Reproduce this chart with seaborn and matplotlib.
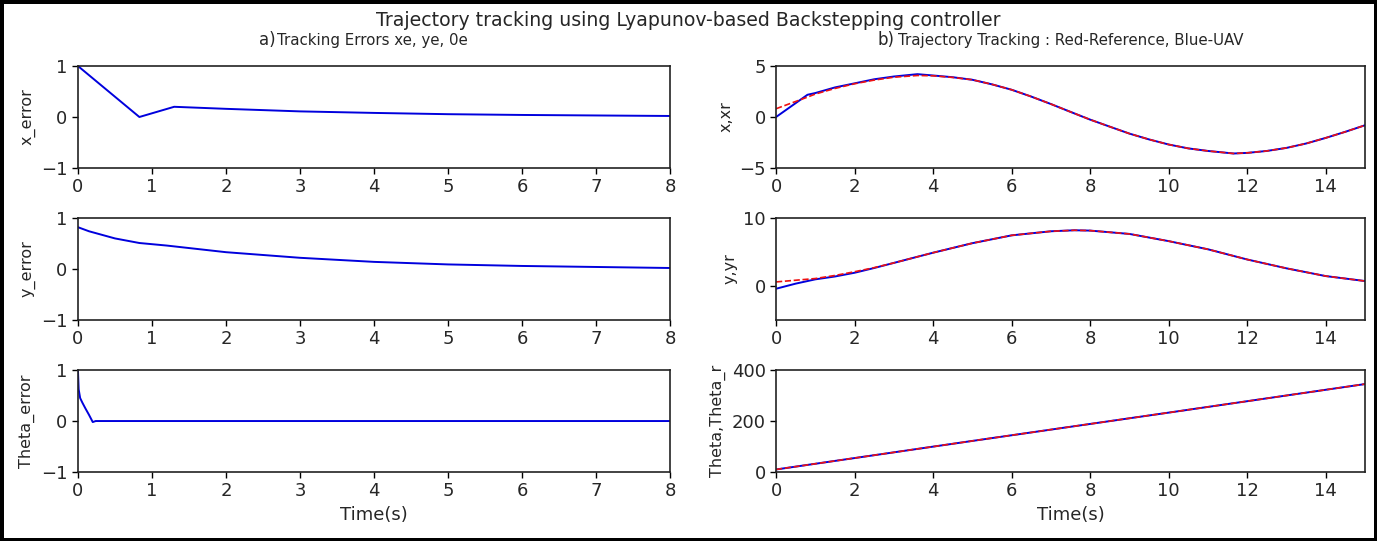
import pandas as pd
import matplotlib.pyplot as plt
import seaborn as sns

sns.set_style("ticks")
plt.rcParams["font.family"] = ["DejaVu Sans"]

# errors (left column)
t_xe = [0, 0.83, 1.3, 2, 3, 4, 5, 6, 7, 8]
x_err = [1.0, 0.0, 0.2, 0.16, 0.11, 0.08, 0.055, 0.04, 0.03, 0.02]

t_ye = [0, 0.15, 0.3, 0.5, 0.83, 1.2, 2, 3, 4, 5, 6, 7, 8]
y_err = [0.82, 0.74, 0.68, 0.6, 0.51, 0.46, 0.33, 0.22, 0.14, 0.09, 0.06, 0.04, 0.02]

t_the = [0, 0.01, 0.03, 0.06, 0.1, 0.15, 0.2, 0.24, 8]
th_err = [1.0, 0.62, 0.45, 0.36, 0.25, 0.12, -0.02, 0.0, 0.0]

# trajectories (right column)
t_x = [0, 0.8, 1, 1.5, 2, 2.5, 3, 3.6, 4, 4.5, 5, 5.5, 6, 6.5, 7, 7.5, 8,
       8.5, 9, 9.5, 10, 10.5, 11, 11.65, 12, 12.5, 13, 13.5, 14, 14.5, 15]
x_uav = [0.0, 2.18, 2.35, 2.9, 3.3, 3.7, 3.97, 4.2, 4.07, 3.9, 3.65, 3.2, 2.67, 2.0, 1.27, 0.5, -0.26,
         -0.95, -1.63, -2.2, -2.7, -3.08, -3.33, -3.58, -3.52, -3.33, -3.03, -2.6, -2.05, -1.45, -0.81]
x_ref = [0.81, 1.95, 2.25, 2.8, 3.26, 3.62, 3.9, 4.07, 4.04, 3.88, 3.65, 3.2, 2.67, 2.0, 1.27, 0.5, -0.26,
         -0.95, -1.63, -2.2, -2.7, -3.08, -3.33, -3.58, -3.52, -3.33, -3.03, -2.6, -2.05, -1.45, -0.81]

t_y = [0, 0.5, 1, 1.5, 2, 2.5, 3, 4, 5, 6, 7, 7.6, 8, 9, 10, 11, 12, 13, 14, 15]
y_uav = [-0.4, 0.35, 0.98, 1.4, 1.95, 2.65, 3.4, 4.9, 6.3, 7.45, 8.05, 8.2, 8.15, 7.66, 6.6, 5.4, 3.9, 2.6, 1.46, 0.73]
y_ref = [0.6, 0.85, 1.1, 1.55, 2.1, 2.7, 3.4, 4.9, 6.3, 7.45, 8.05, 8.2, 8.15, 7.66, 6.6, 5.4, 3.9, 2.6, 1.46, 0.73]

t_th = [0, 5, 10, 15]
th_uav = [10, 122, 233, 345]
th_ref = [10, 122, 233, 345]

fig = plt.figure(figsize=(13.77, 5.41), dpi=100, edgecolor="black", linewidth=5)

lefts = [0.0566, 0.5636]
widths = [0.43, 0.4277]
bottoms = [0.6895, 0.4085, 0.1275]
h = 0.1885


def style_ax(ax, xlim, ylim, yticks, xticks, ylabel):
    ax.set_xlim(*xlim)
    ax.set_ylim(*ylim)
    ax.set_yticks(yticks)
    ax.set_xticks(xticks)
    ax.set_ylabel(ylabel, fontsize=11.5)
    ax.set_xlabel("")
    ax.tick_params(labelsize=13, length=4, width=1, color="black")
    for s in ax.spines.values():
        s.set_color("#222222")
        s.set_linewidth(1.2)


left_data = [(t_xe, x_err, "x_error"), (t_ye, y_err, "y_error"), (t_the, th_err, "Theta_error")]
for i, (t, v, lab) in enumerate(left_data):
    ax = fig.add_axes([lefts[0], bottoms[i], widths[0], h])
    sns.lineplot(x=t, y=v, color="#0000dd", linewidth=1.4, ax=ax)
    style_ax(ax, (0, 8), (-1, 1), [-1, 0, 1], range(0, 9), lab)
    if i == 2:
        ax.set_xlabel("Time(s)", fontsize=13)

right_data = [
    (t_x, x_uav, x_ref, "x,xr", (-5, 5), [-5, 0, 5]),
    (t_y, y_uav, y_ref, "y,yr", (-5, 10), [0, 10]),
    (t_th, th_uav, th_ref, "Theta,Theta_r", (0, 400), [0, 200, 400]),
]
for i, (t, u, r, lab, yl, yt) in enumerate(right_data):
    ax = fig.add_axes([lefts[1], bottoms[i], widths[1], h])
    sns.lineplot(x=t, y=u, color="#0000dd", linewidth=1.4, ax=ax)
    sns.lineplot(x=t, y=r, color="#ee1111", linewidth=1.2, linestyle="--", ax=ax)
    style_ax(ax, (0, 15), yl, yt, range(0, 15, 2), lab)
    if i == 2:
        ax.set_xlabel("Time(s)", fontsize=13)

fig.text(0.5, 0.963, "Trajectory tracking using Lyapunov-based Backstepping controller",
         ha="center", va="center", fontsize=13.6)
fig.text(0.2005, 0.926, "a)", ha="right", va="center", fontsize=12)
fig.text(0.2015, 0.926, "Tracking Errors xe, ye, 0e", ha="left", va="center", fontsize=10.8)
fig.text(0.6495, 0.926, "b)", ha="right", va="center", fontsize=12)
fig.text(0.6525, 0.926, "Trajectory Tracking : Red-Reference, Blue-UAV", ha="left", va="center", fontsize=10.8)

fig.savefig("out.png", dpi=100)
